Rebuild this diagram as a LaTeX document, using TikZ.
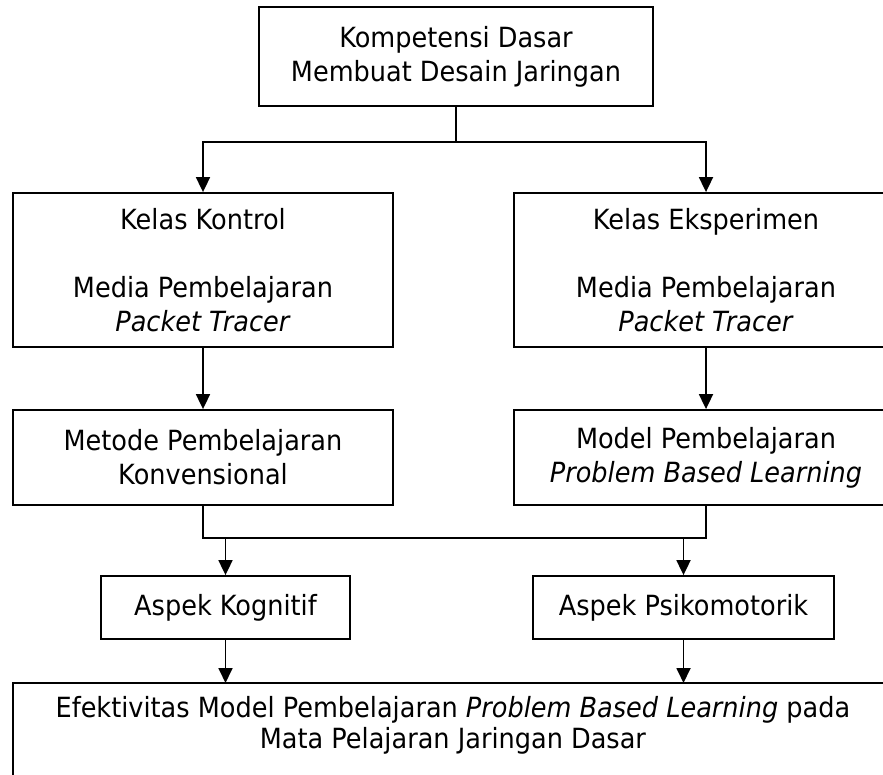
\documentclass[tikz,border=0pt]{standalone}
\usepackage{fontspec}
\setmainfont{DejaVu Sans}[FakeStretch=0.92]
\usetikzlibrary{arrows.meta}

\begin{document}
\begin{tikzpicture}[x=1pt, y=-1pt,
    kotak/.style={draw, line width=1.8pt, align=center, inner sep=0pt,
        font=\fontsize{27.8}{34}\selectfont},
    garis/.style={line width=1.8pt},
    panah/.style={line width=1.8pt, -{Triangle[length=15pt, width=14pt]}}]

    % --- Canvas ---
    % Keeping the frame of the cropped figure
    \useasboundingbox (0,0) rectangle (883,775);
    \clip (0,0) rectangle (883,775);

    % --- Boxes ---
    \node[kotak, minimum width=394pt, minimum height=99pt] (kompetensi) at (456,56.5)
        {Kompetensi Dasar\\Membuat Desain Jaringan};

    \node[kotak, minimum width=380pt, minimum height=154pt] (kontrol) at (203,270)
        {Kelas Kontrol\\[34pt]Media Pembelajaran\\\textit{Packet Tracer}};
    \node[kotak, minimum width=384pt, minimum height=154pt] (eksperimen) at (706,270)
        {Kelas Eksperimen\\[34pt]Media Pembelajaran\\\textit{Packet Tracer}};

    \node[kotak, minimum width=380pt, minimum height=95pt] (metode) at (203,457.5)
        {Metode Pembelajaran\\Konvensional};
    \node[kotak, minimum width=384pt, minimum height=95pt] (model) at (706,457.5)
        {Model Pembelajaran\\\textit{Problem Based Learning}};

    \node[kotak, minimum width=249pt, minimum height=63pt] (kognitif) at (225.5,607.5)
        {Aspek Kognitif};
    \node[kotak, minimum width=301pt, minimum height=63pt] (psikomotorik) at (683.5,607.5)
        {Aspek Psikomotorik};

    % Last box runs off the page, only its left and top sides show
    \node[kotak, draw=none, font=\fontsize{27.8}{31}\selectfont,
        minimum width=878pt, minimum height=82pt, anchor=north west] (efektivitas) at (13,683)
        {Efektivitas Model Pembelajaran \textit{Problem Based Learning} pada\\Mata Pelajaran Jaringan Dasar};
    \draw[garis] ([yshift=-30pt]efektivitas.south west) -- (efektivitas.north west)
        -- (efektivitas.north east);

    % --- Connectors ---
    \draw[garis] (kompetensi.south) -- ++(0,35) coordinate (cabang);
    \draw[panah] (cabang) -| (kontrol.north);
    \draw[panah] (cabang) -| (eksperimen.north);

    \draw[panah] (kontrol.south) -- (metode.north);
    \draw[panah] (eksperimen.south) -- (model.north);

    \draw[garis] (metode.south) -- ++(0,32) coordinate (gabung) -| (model.south);
    \draw[panah] (kognitif.north |- gabung) -- (kognitif.north);
    \draw[panah] (psikomotorik.north |- gabung) -- (psikomotorik.north);

    \draw[panah] (kognitif.south) -- (kognitif.south |- efektivitas.north);
    \draw[panah] (psikomotorik.south) -- (psikomotorik.south |- efektivitas.north);

\end{tikzpicture}
\end{document}
